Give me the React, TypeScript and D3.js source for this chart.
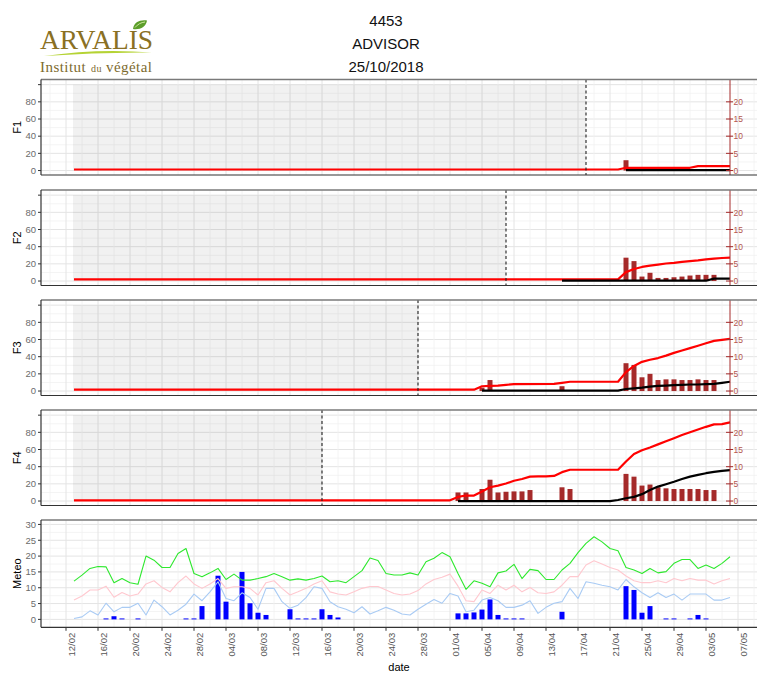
import { useEffect, useRef } from "react";
import * as d3 from "d3";

const W = 757;
const H = 673;
const FONT = "'Liberation Sans', Arial, sans-serif";

const dt = (s: string) => new Date(`2018-${s}T00:00:00Z`);

// météo journalière à partir du 13/02
const meteoStart = "02-13";
const tmax = [
  12.1, 14.0, 16.1, 16.7, 16.6, 11.6, 12.9, 11.6, 11.1, 20.0,
  18.7, 16.4, 16.4, 20.8, 22.4, 14.5, 13.5, 14.7, 16.1, 12.6,
  14.3, 12.4, 12.4, 12.9, 13.5, 14.5, 13.5, 12.4, 12.8, 12.4,
  12.9, 13.7, 11.9, 12.2, 11.6, 13.5, 15.4, 19.4, 18.6, 14.5,
  14.0, 14.0, 14.7, 14.0, 18.2, 19.3, 21.1, 19.8, 14.5, 9.5,
  12.2, 11.4, 10.3, 14.7, 15.3, 17.4, 12.9, 15.8, 15.4, 12.6,
  12.6, 15.6, 17.7, 21.1, 24.0, 26.1, 24.5, 22.4, 21.7, 16.4,
  15.6, 14.5, 16.1, 14.7, 15.1, 17.7, 18.9, 18.9, 16.1, 17.2,
  16.1, 17.7, 19.8,
];
const tmoy = [
  6.1, 7.4, 9.3, 9.3, 10.5, 7.0, 8.5, 7.4, 8.0, 11.2,
  12.2, 10.1, 8.7, 11.6, 13.7, 11.2, 9.8, 11.2, 12.9, 9.8,
  10.3, 10.3, 9.8, 7.7, 11.6, 12.2, 9.8, 7.7, 8.7, 9.8,
  11.2, 12.2, 8.7, 8.0, 7.7, 8.7, 9.8, 10.4, 10.4, 9.3,
  8.2, 7.7, 8.0, 9.1, 11.2, 12.6, 13.3, 14.3, 10.5, 5.9,
  5.6, 9.3, 8.2, 10.8, 9.3, 10.8, 8.7, 10.1, 8.4, 8.2,
  8.7, 10.8, 13.5, 13.5, 17.2, 18.5, 17.5, 16.4, 15.6, 13.7,
  12.2, 11.6, 11.6, 12.2, 11.6, 12.9, 12.2, 12.9, 12.4, 12.4,
  11.2, 12.2, 12.9,
];
const tmin = [
  0.3, 0.8, 2.7, 1.4, 5.1, 2.4, 3.8, 3.8, 5.1, 1.4,
  6.1, 4.0, 1.4, 2.9, 4.8, 8.0, 5.9, 8.7, 11.9, 6.6,
  5.9, 8.4, 6.9, 3.2, 9.8, 9.8, 5.6, 3.5, 4.5, 6.9,
  10.3, 9.8, 5.6, 4.0, 3.2, 2.1, 4.0, 1.7, 2.7, 3.8,
  2.9, 1.7, 1.4, 3.2, 4.8, 6.3, 5.1, 8.2, 7.4, 2.4,
  2.9, 6.1, 6.9, 5.9, 3.8, 3.8, 4.5, 5.9, 1.9, 3.8,
  5.1, 5.6, 9.8, 6.6, 11.9, 11.4, 10.8, 10.3, 9.3, 12.6,
  10.3, 8.4, 6.9, 8.4, 6.9, 8.0, 6.1, 8.0, 8.0, 8.0,
  6.1, 6.1, 6.9,
];
const pluie: [string, number][] = [
  ["02-17", 0.3], ["02-18", 1.0], ["02-19", 0.3], ["02-21", 0.3], ["02-27", 0.3],
  ["02-28", 0.3], ["03-01", 4.2], ["03-03", 13.8], ["03-04", 5.6], ["03-06", 15.0],
  ["03-07", 5.1], ["03-08", 2.1], ["03-09", 1.4], ["03-12", 3.2], ["03-13", 0.3],
  ["03-14", 0.3], ["03-15", 0.3], ["03-16", 3.2], ["03-17", 1.4], ["03-18", 0.6],
  ["04-02", 1.9], ["04-03", 1.9], ["04-04", 2.2], ["04-05", 3.1], ["04-06", 6.3],
  ["04-07", 1.4], ["04-08", 0.3], ["04-09", 0.3], ["04-10", 0.3], ["04-15", 2.4],
  ["04-23", 10.5], ["04-24", 9.3], ["04-25", 2.1], ["04-26", 4.2], ["04-28", 0.3],
  ["04-29", 0.3], ["05-01", 0.3], ["05-02", 1.4], ["05-03", 0.3],
];

// F1
const f1Red: [string, number][] = [
  ["02-13", 0.3], ["04-22", 0.3], ["04-23", 0.8], ["05-01", 0.8], ["05-02", 1.3], ["05-06", 1.3],
];
const f1Black: [string, number][] = [["04-23", 0.1], ["05-06", 0.1]];
const f1Bars: [string, number][] = [["04-23", 3.0]];

// F2
const f2Red: [string, number][] = [
  ["02-13", 0.5], ["04-22", 0.5], ["04-23", 2.6], ["04-24", 3.5], ["04-25", 4.1], ["04-26", 4.5],
  ["04-27", 4.8], ["04-28", 5.1], ["04-29", 5.3], ["04-30", 5.6], ["05-01", 5.8], ["05-02", 6.0],
  ["05-03", 6.3], ["05-04", 6.5], ["05-05", 6.7], ["05-06", 6.8],
];
const f2Black: [string, number][] = [["04-15", 0.1], ["05-03", 0.1], ["05-04", 0.7], ["05-06", 0.7]];
const f2Bars: [string, number][] = [
  ["04-23", 6.8], ["04-24", 5.8], ["04-25", 1.3], ["04-26", 2.4], ["04-27", 0.9], ["04-28", 0.9],
  ["04-29", 1.1], ["04-30", 1.3], ["05-01", 1.6], ["05-02", 1.8], ["05-03", 1.8], ["05-04", 1.8],
];

// F3
const f3Red: [string, number][] = [
  ["02-13", 0.4], ["04-04", 0.4], ["04-05", 1.4], ["04-06", 1.5], ["04-07", 1.6], ["04-08", 1.8],
  ["04-09", 2.0], ["04-14", 2.1], ["04-15", 2.4], ["04-16", 2.7], ["04-22", 2.7], ["04-23", 5.5],
  ["04-24", 7.3], ["04-25", 8.5], ["04-26", 9.1], ["04-27", 9.6], ["04-28", 10.3], ["04-29", 11.1],
  ["04-30", 11.8], ["05-01", 12.5], ["05-02", 13.2], ["05-03", 13.9], ["05-04", 14.6], ["05-05", 14.9],
  ["05-06", 15.2],
];
const f3Black: [string, number][] = [
  ["04-05", 0.1], ["04-22", 0.1], ["04-23", 0.6], ["04-24", 0.8], ["04-25", 1.0], ["04-26", 1.3],
  ["04-27", 1.5], ["04-28", 1.6], ["04-29", 1.7], ["04-30", 1.8], ["05-01", 1.9], ["05-02", 1.9],
  ["05-03", 2.0], ["05-04", 2.1], ["05-05", 2.4], ["05-06", 2.7],
];
const f3Bars: [string, number][] = [
  ["04-05", 1.0], ["04-06", 3.2], ["04-15", 1.4], ["04-23", 8.1], ["04-24", 7.6], ["04-25", 4.0],
  ["04-26", 5.0], ["04-27", 3.2], ["04-28", 3.4], ["04-29", 3.4], ["04-30", 3.2], ["05-01", 3.2],
  ["05-02", 3.4], ["05-03", 3.2], ["05-04", 3.2],
];

// F4
const f4Red: [string, number][] = [
  ["02-13", 0.2], ["04-01", 0.2], ["04-02", 1.2], ["04-03", 1.6], ["04-04", 1.6], ["04-05", 2.8],
  ["04-06", 4.0], ["04-07", 4.5], ["04-08", 5.1], ["04-09", 5.9], ["04-10", 6.4], ["04-11", 7.1],
  ["04-12", 7.2], ["04-13", 7.2], ["04-14", 7.3], ["04-15", 8.4], ["04-16", 9.1], ["04-22", 9.1],
  ["04-23", 11.5], ["04-24", 13.7], ["04-25", 14.8], ["04-26", 15.6], ["04-27", 16.5], ["04-28", 17.4],
  ["04-29", 18.3], ["04-30", 19.2], ["05-01", 20.0], ["05-02", 20.8], ["05-03", 21.6], ["05-04", 22.3],
  ["05-05", 22.4], ["05-06", 22.9],
];
const f4Black: [string, number][] = [
  ["04-02", 0], ["04-21", 0], ["04-22", 0.3], ["04-23", 0.8], ["04-24", 1.2], ["04-25", 2.0],
  ["04-26", 3.2], ["04-27", 4.2], ["04-28", 4.9], ["04-29", 5.6], ["04-30", 6.4], ["05-01", 7.1],
  ["05-02", 7.6], ["05-03", 8.1], ["05-04", 8.5], ["05-05", 8.8], ["05-06", 9.0],
];
const f4Bars: [string, number][] = [
  ["04-02", 2.5], ["04-03", 2.5], ["04-05", 3.5], ["04-06", 6.2], ["04-07", 2.5], ["04-08", 2.7],
  ["04-09", 2.8], ["04-10", 2.8], ["04-11", 3.2], ["04-15", 4.0], ["04-16", 3.5], ["04-23", 7.9],
  ["04-24", 7.1], ["04-25", 4.5], ["04-26", 4.8], ["04-27", 4.0], ["04-28", 3.7], ["04-29", 3.5],
  ["04-30", 3.5], ["05-01", 3.5], ["05-02", 3.5], ["05-03", 3.2], ["05-04", 3.2],
];

const panelNames = ["F1", "F2", "F3", "F4"];
const seuils = ["04-18", "04-08", "03-28", "03-16"];
const leftTicks = [0, 20, 40, 60, 80, 100];
const leftLabels = ["0", "20", "40", "60", "80", ""];
const rightTicks = [0, 5, 10, 15, 20];
const meteoTicks = [0, 5, 10, 15, 20, 25, 30];
const titleLines = ["4453", "ADVISOR", "25/10/2018"];

export default function App() {
  const svgRef = useRef<SVGSVGElement>(null);

  useEffect(() => {
    if (!svgRef.current) return;
    const svg = d3.select(svgRef.current);
    svg.selectAll("*").remove();

    const left = 41;
    const right = W;
    const x = d3.scaleUtc().domain([dt("02-12"), dt("05-07")]).range([66, 738]);
    const majors = d3.utcDay.range(dt("02-12"), dt("05-12"), 4);
    const minors = d3.utcDay.range(dt("02-10"), dt("05-12"), 4).filter((d) => x(d) > left);
    const barW = 5;

    svg.append("defs").append("clipPath").attr("id", "plotclip")
      .append("rect").attr("x", left).attr("y", 0).attr("width", right - left).attr("height", H);

    // logo ARVALIS
    const serif = "'Liberation Serif', 'DejaVu Serif', serif";
    const logo = svg.append("g");
    logo.append("text").attr("x", 40).attr("y", 48.5)
      .attr("font-family", serif).attr("font-size", 27)
      .attr("textLength", 113).attr("lengthAdjust", "spacingAndGlyphs")
      .attr("fill", "#8a7023").text("ARVALIS");
    logo.append("path").attr("d", "M133,29 C134,22 140,19.5 147,20.5 C146,27 140,30 133,29 Z").attr("fill", "#5c9e2a");
    logo.append("path").attr("d", "M135,27.5 C138,24 141,22.5 145,22").attr("stroke", "#cde6a0").attr("stroke-width", 1).attr("fill", "none");
    logo.append("path").attr("d", "M44,56 Q98,48 152,52.5 Q98,52 44,56 Z").attr("fill", "#b5d334");
    const sub = logo.append("text").attr("x", 40).attr("y", 71.5)
      .attr("font-family", serif).attr("fill", "#7d6a2e")
      .attr("textLength", 112).attr("lengthAdjust", "spacing");
    sub.append("tspan").attr("font-size", 15).text("Institut");
    sub.append("tspan").attr("font-size", 10).attr("dx", 5).text("du");
    sub.append("tspan").attr("font-size", 15).attr("dx", 4).text("végétal");

    // titre
    svg.append("g").selectAll("text").data(titleLines).join("text")
      .attr("x", 386).attr("y", (_, i) => 26 + i * 23)
      .attr("text-anchor", "middle").attr("font-family", FONT).attr("font-size", 15)
      .attr("fill", "#111").text((d) => d);

    const drawVGrid = (g: any, top: number, bottom: number) => {
      g.append("g").selectAll("line").data(minors).join("line")
        .attr("x1", (d: Date) => x(d)).attr("x2", (d: Date) => x(d)).attr("y1", top).attr("y2", bottom)
        .attr("stroke", "#f1f1f1").attr("stroke-width", 0.8);
      g.append("g").selectAll("line").data(majors).join("line")
        .attr("x1", (d: Date) => x(d)).attr("x2", (d: Date) => x(d)).attr("y1", top).attr("y2", bottom)
        .attr("stroke", "#e4e4e4").attr("stroke-width", 1);
    };
    const drawHGrid = (g: any, vals: number[], y: any, color: string, w: number) => {
      g.append("g").selectAll("line").data(vals).join("line")
        .attr("x1", left).attr("x2", right).attr("y1", (d: number) => y(d)).attr("y2", (d: number) => y(d))
        .attr("stroke", color).attr("stroke-width", w);
    };
    const drawFrame = (g: any, top: number, bottom: number) => {
      g.append("line").attr("x1", left).attr("x2", right).attr("y1", top).attr("y2", top)
        .attr("stroke", "#7a7a7a").attr("stroke-width", 1.5);
      g.append("line").attr("x1", left).attr("x2", right).attr("y1", bottom).attr("y2", bottom)
        .attr("stroke", "#333").attr("stroke-width", 1.2);
      g.append("line").attr("x1", left).attr("x2", left).attr("y1", top).attr("y2", bottom)
        .attr("stroke", "#333").attr("stroke-width", 1.2);
    };
    const yTitle = (label: string, cy: number) => {
      svg.append("text").attr("transform", `translate(20.5,${cy}) rotate(-90)`)
        .attr("text-anchor", "middle").attr("font-family", FONT).attr("font-size", 11)
        .attr("fill", "#000").text(label);
    };

    const panels = [
      { red: f1Red, black: f1Black, bars: f1Bars },
      { red: f2Red, black: f2Black, bars: f2Bars },
      { red: f3Red, black: f3Black, bars: f3Bars },
      { red: f4Red, black: f4Black, bars: f4Bars },
    ];
    const fTops = [79.5, 190, 300, 410];
    const fH = 95.5;

    panels.forEach((p, i) => {
      const top = fTops[i];
      const bottom = top + fH;
      const y = d3.scaleLinear().domain([-5.2, 106]).range([bottom, top]);
      const yR = (v: number) => y(v * 4);
      const g = svg.append("g");
      const plot = g.append("g").attr("clip-path", "url(#plotclip)");

      drawHGrid(plot, [10, 30, 50, 70, 90], y, "#f1f1f1", 0.8);
      drawHGrid(plot, leftTicks, y, "#e4e4e4", 1);
      drawVGrid(plot, top, bottom);

      // période passée (grisée)
      plot.append("rect")
        .attr("x", x(dt(meteoStart)) - 1).attr("width", x(dt(seuils[i])) - x(dt(meteoStart)) + 1)
        .attr("y", y(100)).attr("height", y(0) - y(100))
        .attr("fill", "#000").attr("fill-opacity", 0.055);

      plot.append("g").selectAll("rect").data(p.bars).join("rect")
        .attr("x", (d) => x(dt(d[0])) - barW / 2).attr("width", barW)
        .attr("y", (d) => yR(d[1])).attr("height", (d) => yR(0) - yR(d[1]))
        .attr("fill", "#a52a2a");

      const line = d3.line<[string, number]>().x((d) => x(dt(d[0]))).y((d) => yR(d[1]));
      plot.append("path").datum(p.red).attr("d", line).attr("fill", "none")
        .attr("stroke", "#ff0000").attr("stroke-width", 2.2).attr("stroke-linejoin", "round");
      plot.append("path").datum(p.black).attr("d", line).attr("fill", "none")
        .attr("stroke", "#000").attr("stroke-width", 2.2).attr("stroke-linejoin", "round");

      plot.append("line").attr("x1", x(dt(seuils[i]))).attr("x2", x(dt(seuils[i])))
        .attr("y1", top).attr("y2", bottom)
        .attr("stroke", "#222").attr("stroke-width", 1.1).attr("stroke-dasharray", "3,2.5");

      // axe secondaire
      const vx = x(dt("05-06"));
      plot.append("line").attr("x1", vx).attr("x2", vx).attr("y1", top).attr("y2", bottom)
        .attr("stroke", "#a52a2a").attr("stroke-width", 1);
      plot.append("g").selectAll("line").data(rightTicks).join("line")
        .attr("x1", vx - 4).attr("x2", vx + 3).attr("y1", (d) => yR(d)).attr("y2", (d) => yR(d))
        .attr("stroke", "#a52a2a").attr("stroke-width", 1);
      plot.append("g").selectAll("text").data(rightTicks).join("text")
        .attr("x", vx + 3.5).attr("y", (d) => yR(d) + 3.2)
        .attr("font-family", FONT).attr("font-size", 8.5).attr("fill", "#b5564f")
        .text((d) => String(d));

      // axe gauche
      g.append("g").selectAll("line").data(leftTicks).join("line")
        .attr("x1", left - 3).attr("x2", left).attr("y1", (d) => y(d)).attr("y2", (d) => y(d))
        .attr("stroke", "#333").attr("stroke-width", 1);
      g.append("g").selectAll("text").data(leftTicks).join("text")
        .attr("x", left - 5).attr("y", (d) => y(d) + 3.3).attr("text-anchor", "end")
        .attr("font-family", FONT).attr("font-size", 9.5).attr("fill", "#6b6b6b")
        .text((_, k) => leftLabels[k]);

      drawFrame(g, top, bottom);
      yTitle(panelNames[i], (top + bottom) / 2);
    });

    // panneau météo
    const mTop = 520;
    const mBottom = 627.3;
    const ym = d3.scaleLinear().domain([-2.5, 31.4]).range([mBottom, mTop]);
    const gm = svg.append("g");
    const pm = gm.append("g").attr("clip-path", "url(#plotclip)");
    drawHGrid(pm, [2.5, 7.5, 12.5, 17.5, 22.5, 27.5], ym, "#f1f1f1", 0.8);
    drawHGrid(pm, meteoTicks, ym, "#e4e4e4", 1);
    drawVGrid(pm, mTop, mBottom);

    const days = tmax.map((_, i) => d3.utcDay.offset(dt(meteoStart), i));
    pm.append("g").selectAll("rect").data(pluie).join("rect")
      .attr("x", (d) => x(dt(d[0])) - barW / 2).attr("width", barW)
      .attr("y", (d) => ym(d[1])).attr("height", (d) => ym(0) - ym(d[1]))
      .attr("fill", "#0000ff");
    const mLine = d3.line<number>().x((_, i) => x(days[i])).y((d) => ym(d));
    [
      { v: tmin, c: "#a9cbf4" },
      { v: tmoy, c: "#ffc8cf" },
      { v: tmax, c: "#2ee82e" },
    ].forEach((s) => {
      pm.append("path").datum(s.v).attr("d", mLine).attr("fill", "none")
        .attr("stroke", s.c).attr("stroke-width", 1.1).attr("stroke-linejoin", "round");
    });

    gm.append("g").selectAll("line").data(meteoTicks).join("line")
      .attr("x1", left - 3).attr("x2", left).attr("y1", (d) => ym(d)).attr("y2", (d) => ym(d))
      .attr("stroke", "#333");
    gm.append("g").selectAll("text").data(meteoTicks).join("text")
      .attr("x", left - 5).attr("y", (d) => ym(d) + 3.3).attr("text-anchor", "end")
      .attr("font-family", FONT).attr("font-size", 9.5).attr("fill", "#6b6b6b")
      .text((d) => String(d));

    // axe des dates
    const fmt = d3.utcFormat("%d/%m");
    const xTicks = majors.filter((d) => x(d) < right - 5);
    gm.append("g").selectAll("line").data(xTicks).join("line")
      .attr("x1", (d) => x(d)).attr("x2", (d) => x(d)).attr("y1", mBottom).attr("y2", mBottom + 3.5)
      .attr("stroke", "#333");
    gm.append("g").selectAll("text").data(xTicks).join("text")
      .attr("transform", (d) => `translate(${x(d) + 8.5},${mBottom + 5.5}) rotate(-90)`)
      .attr("text-anchor", "end").attr("font-family", FONT).attr("font-size", 9.5)
      .attr("fill", "#555").text((d) => fmt(d));
    drawFrame(gm, mTop, mBottom);
    yTitle("Meteo", (mTop + mBottom) / 2);

    svg.append("text").attr("x", (left + right) / 2).attr("y", 671)
      .attr("text-anchor", "middle").attr("font-family", FONT).attr("font-size", 11)
      .attr("fill", "#000").text("date");
  }, []);

  return (
    <svg
      ref={svgRef}
      width={W}
      height={H}
      style={{ position: "absolute", left: 0, top: 0, background: "#fff" }}
    />
  );
}
